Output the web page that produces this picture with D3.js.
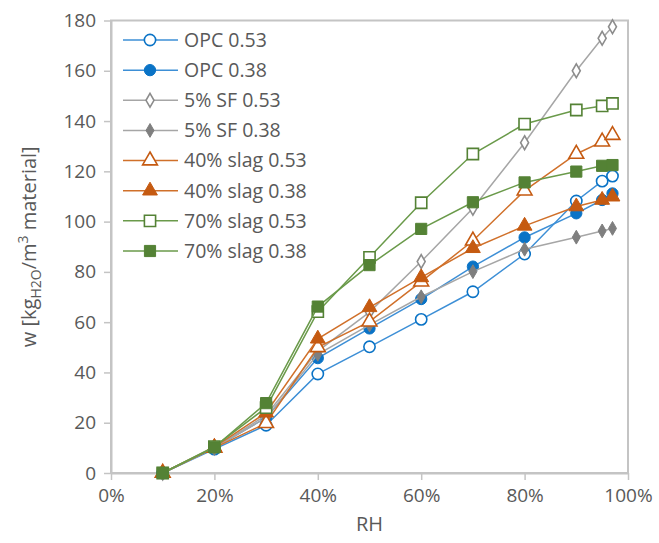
<!DOCTYPE html>
<html>
<head>
<meta charset="utf-8">
<script src="https://cdn.jsdelivr.net/npm/d3@7"></script>
<style>
  body { margin: 0; background: #fff; }
  text { font-family: "Open Sans", Lato, sans-serif; fill: #595959; }
</style>
</head>
<body>
<svg width="659" height="543"></svg>
<script>
// Relative humidity (%) of the measurements
let rh = [10, 20, 30, 40, 50, 60, 70, 80, 90, 95, 97];

// Moisture content, kg water / m3 material
let opc053 = [0, 9.5, 19, 39.4, 50.2, 61.1, 72.1, 87.1, 108.2, 116.1, 118.1];
let opc038 = [0, 10, 22, 45.7, 57.5, 69.2, 82.1, 93.7, 103.3, 108.6, 111.2];
let sf053 = [0, 10, 23, 48.5, 64, 84.1, 105.3, 131.4, 160, 172.9, 177.5];
let sf038 = [0, 10, 22, 47.2, 58.9, 70.1, 80.1, 89, 93.8, 96.3, 97.3];
let slag40053 = [0, 10, 19.8, 50, 60.2, 76.1, 92.4, 112.3, 126.9, 131.8, 134.4];
let slag40038 = [0, 10.3, 24, 53.4, 65.9, 77.8, 89.4, 98.3, 106, 108.6, 109.9];
let slag70053 = [0, 10.5, 26, 64.2, 85.8, 107.5, 126.9, 138.8, 144.4, 146, 147];
let slag70038 = [0, 10.2, 27.8, 66.2, 82.7, 97.1, 107.7, 115.6, 119.9, 122.2, 122.5];

let seriesNames = ["OPC 0.53", "OPC 0.38", "5% SF 0.53", "5% SF 0.38",
  "40% slag 0.53", "40% slag 0.38", "70% slag 0.53", "70% slag 0.38"];

let xTicks = [0, 20, 40, 60, 80, 100];
let yTicks = [0, 20, 40, 60, 80, 100, 120, 140, 160, 180];

// styling per series
let styles = [
  { line: "#3d8fd6", mark: "#0a73c6", shape: "circle", filled: false },
  { line: "#3d8fd6", mark: "#0a73c6", shape: "circle", filled: true },
  { line: "#a6a6a6", mark: "#8c8c8c", shape: "diamond", filled: false },
  { line: "#a6a6a6", mark: "#7f7f7f", shape: "diamond", filled: true },
  { line: "#d0702a", mark: "#c55a11", shape: "triangle", filled: false },
  { line: "#d0702a", mark: "#c55a11", shape: "triangle", filled: true },
  { line: "#6a9a4a", mark: "#548235", shape: "square", filled: false },
  { line: "#6a9a4a", mark: "#548235", shape: "square", filled: true }
];

let values = [opc053, opc038, sf053, sf038, slag40053, slag40038, slag70053, slag70038];
let series = seriesNames.map((name, i) => ({
  name: name,
  style: styles[i],
  points: rh.map((r, j) => ({ rh: r, w: values[i][j] }))
}));

let svg = d3.select("svg");

let plotLeft = 111, plotRight = 628, plotTop = 20.5, plotBottom = 473;

let x = d3.scaleLinear().domain([0, 100]).range([plotLeft, plotRight]);
let y = d3.scaleLinear().domain([0, 180]).range([plotBottom, plotTop]);

let axisColor = "#c4c4c4";

// plot frame
svg.append("rect")
  .attr("x", plotLeft).attr("y", plotTop)
  .attr("width", plotRight - plotLeft).attr("height", plotBottom - plotTop)
  .attr("fill", "none").attr("stroke", axisColor).attr("stroke-width", 2);

// axes
let xAxis = svg.append("g")
  .attr("transform", "translate(0," + plotBottom + ")")
  .call(d3.axisBottom(x).tickValues(xTicks).tickSize(7).tickSizeOuter(0).tickPadding(9)
    .tickFormat(d => d + "%"));

let yAxis = svg.append("g")
  .attr("transform", "translate(" + plotLeft + ",0)")
  .call(d3.axisLeft(y).tickValues(yTicks).tickSize(7).tickSizeOuter(0).tickPadding(8));

[xAxis, yAxis].forEach(a => {
  a.select(".domain").attr("stroke", axisColor).attr("stroke-width", 2);
  a.selectAll(".tick line").attr("stroke", axisColor).attr("stroke-width", 1.5);
  a.selectAll(".tick text").style("font-size", "19px").attr("fill", "#595959");
});

// axis titles
svg.append("text")
  .attr("x", (plotLeft + plotRight) / 2).attr("y", 531)
  .attr("text-anchor", "middle")
  .style("font-size", "20px")
  .text("RH");

let yTitle = svg.append("text")
  .attr("transform", "translate(36," + ((plotTop + plotBottom) / 2) + ") rotate(-90)")
  .attr("text-anchor", "middle")
  .style("font-size", "20px");
yTitle.append("tspan").text("w [kg");
yTitle.append("tspan").attr("dy", 5).style("font-size", "14px").text("H2O");
yTitle.append("tspan").attr("dy", -5).text("/m");
yTitle.append("tspan").attr("dy", -8).style("font-size", "14px").text("3");
yTitle.append("tspan").attr("dy", 8).text(" material]");

// symbol generator per shape
let symbolTypes = {
  circle: d3.symbolCircle,
  diamond: d3.symbolDiamond,
  triangle: d3.symbolTriangle,
  square: d3.symbolSquare
};
let symbolSizes = { circle: 100, diamond: 55, triangle: 95, square: 125 };

function drawMarker(g, s) {
  g.append("path")
    .attr("d", d3.symbol().type(symbolTypes[s.shape]).size(symbolSizes[s.shape])())
    .attr("fill", s.filled ? s.mark : "#fff")
    .attr("stroke", s.mark)
    .attr("stroke-width", s.filled ? 1 : 1.6);
}

let line = d3.line().x(d => x(d.rh)).y(d => y(d.w));

let plot = svg.append("g");

series.forEach(sr => {
  plot.append("path")
    .datum(sr.points)
    .attr("d", line)
    .attr("fill", "none")
    .attr("stroke", sr.style.line)
    .attr("stroke-width", 1.5);

  sr.points.forEach(p => {
    let g = plot.append("g").attr("transform", "translate(" + x(p.rh) + "," + y(p.w) + ")");
    drawMarker(g, sr.style);
  });
});

// legend
let legend = svg.append("g");
let rowY = d3.scaleLinear().domain([0, 7]).range([40, 251]);

series.forEach((sr, i) => {
  let row = legend.append("g").attr("transform", "translate(0," + rowY(i) + ")");
  row.append("line")
    .attr("x1", 123).attr("x2", 178)
    .attr("stroke", sr.style.line).attr("stroke-width", 1.5);
  let m = row.append("g").attr("transform", "translate(150,0)");
  drawMarker(m, sr.style);
  row.append("text")
    .attr("x", 184).attr("y", 0).attr("dy", "0.35em")
    .style("font-size", "19.5px")
    .text(sr.name);
});
</script>
</body>
</html>
